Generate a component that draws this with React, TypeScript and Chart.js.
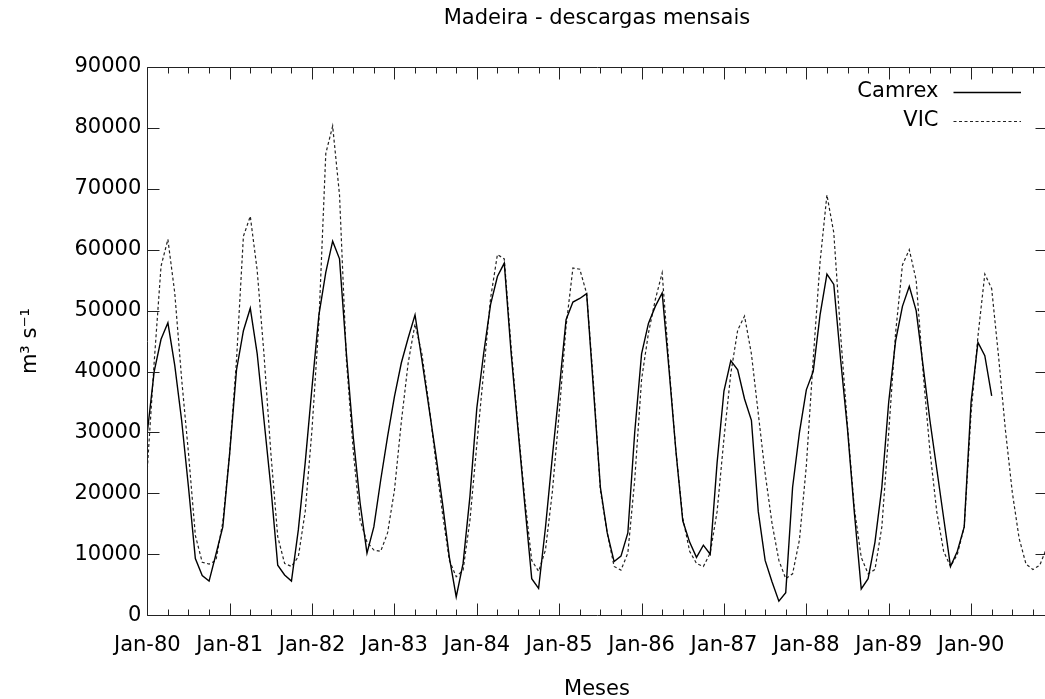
import React, { useEffect, useRef } from 'react';
import { Chart, registerables } from 'chart.js';

Chart.register(...registerables);

// ---- Data (monthly discharges, Jan-80 onward) ----
const chartTitle = 'Madeira - descargas mensais';
const xAxisTitle = 'Meses';
const yAxisTitle = 'm³ s⁻¹';
const seriesNames = ['Camrex', 'VIC'];

const xTickMonths = [0, 12, 24, 36, 48, 60, 72, 84, 96, 108, 120];
const xTickLabels = ['Jan-80', 'Jan-81', 'Jan-82', 'Jan-83', 'Jan-84', 'Jan-85', 'Jan-86', 'Jan-87', 'Jan-88', 'Jan-89', 'Jan-90'];
const yTickValues = [0, 10000, 20000, 30000, 40000, 50000, 60000, 70000, 80000, 90000];

const camrex = [
  30000, 40000, 45300, 48000, 41000, 32000, 21000, 9300, 6500, 5600, 10000, 14500,
  26600, 40300, 46700, 50400, 43000, 32000, 21000, 8200, 6600, 5600, 14000, 25000,
  37500, 49300, 56300, 61400, 58500, 43000, 29300, 18400, 10200, 14500, 22200, 29300,
  35900, 41400, 45500, 49300, 41900, 34300, 26600, 18400, 9500, 3000, 8500, 19500,
  34000, 43000, 51000, 55600, 57800, 43000, 30500, 18000, 6000, 4400, 14400, 26000,
  37000, 48500, 51400, 52000, 52800, 37000, 21000, 13500, 8800, 9700, 13500, 30000,
  42900, 47900, 50700, 52900, 40300, 27000, 15500, 12000, 9500, 11500, 10000, 25000,
  36800, 41800, 40300, 35500, 32000, 17000, 9000, 5500, 2300, 3700, 21000, 30000,
  37000, 40000, 49300, 56000, 54300, 41900, 30500, 16800, 4300, 6000, 12000, 21000,
  35000, 45000, 50700, 54000, 50000, 41000, 32000, 24000, 16000, 8000, 10500, 14500,
  35000, 44800, 42600, 36000,
];

const vic = [
  24000, 41500, 57300, 61700, 52900, 38800, 26600, 13100, 8700, 8400, 9000, 15300,
  26600, 42000, 62200, 65500, 56700, 42800, 26600, 12900, 8500, 8000, 9600, 17000,
  30600, 48200, 75800, 80300, 69000, 42000, 27000, 15600, 12000, 10700, 10500, 13500,
  20500, 31700, 41400, 47800, 42900, 34800, 25500, 16700, 9000, 6300, 7400, 15600,
  28000, 40000, 52000, 59200, 58500, 44000, 31000, 19000, 9000, 7200, 10700, 20200,
  33200, 47400, 57000, 56800, 52800, 38000, 20500, 13500, 8000, 7400, 10200, 22200,
  38700, 46300, 51800, 56200, 41000, 27000, 16000, 10500, 8500, 8000, 10200, 17000,
  29000, 39700, 46800, 49100, 42900, 33100, 23300, 15100, 9000, 6000, 6800, 12400,
  24500, 42000, 58000, 69000, 62800, 46000, 31000, 17500, 9500, 6800, 7500, 14500,
  30000, 46300, 57500, 60000, 55000, 40000, 27000, 17000, 10500, 8000, 10000, 14500,
  33200, 45800, 56000, 53600, 42500, 30400, 20200, 12600, 8400, 7500, 8200, 11000,
];

const xMax = vic.length - 1;

const FONT_FAMILY = '"DejaVu Sans", sans-serif';
const FONT_SIZE = 21;
const INK = '#000';
const FRAME = '#222';

const gnuplotDecor = {
  id: 'gnuplotDecor',
  afterDraw(chart: any) {
    const { ctx, chartArea: a, scales } = chart;
    const xs = scales.x;
    const ys = scales.y;
    const L = Math.round(a.left) + 0.5;
    const R = Math.round(a.right) + 0.5;
    const T = Math.round(a.top) + 0.5;
    const B = Math.round(a.bottom) + 0.5;
    ctx.save();
    ctx.strokeStyle = FRAME;
    ctx.lineWidth = 1;
    ctx.setLineDash([]);
    ctx.beginPath();
    ctx.rect(L, T, R - L, B - T);
    // y ticks (left and mirrored right)
    ys.ticks.forEach((t: any) => {
      const py = Math.round(ys.getPixelForValue(t.value)) + 0.5;
      ctx.moveTo(L, py); ctx.lineTo(L + 12, py);
      ctx.moveTo(R, py); ctx.lineTo(R - 12, py);
    });
    // x major ticks (bottom and mirrored top)
    xs.ticks.forEach((t: any) => {
      const px = Math.round(xs.getPixelForValue(t.value)) + 0.5;
      ctx.moveTo(px, B); ctx.lineTo(px, B - 12);
      ctx.moveTo(px, T); ctx.lineTo(px, T + 12);
    });
    // x minor ticks every quarter
    for (let m = 3; m <= xs.max; m += 3) {
      if (m % 12 === 0) continue;
      const px = Math.round(xs.getPixelForValue(m)) + 0.5;
      ctx.moveTo(px, B); ctx.lineTo(px, B - 6);
      ctx.moveTo(px, T); ctx.lineTo(px, T + 6);
    }
    ctx.stroke();

    // texts
    ctx.fillStyle = INK;
    ctx.font = `${FONT_SIZE}px ${FONT_FAMILY}`;
    ctx.textAlign = 'center';
    ctx.textBaseline = 'middle';
    const cx = (a.left + a.right) / 2;
    ctx.fillText(chartTitle, cx, 11);
    ctx.fillText(xAxisTitle, cx, 681.5);
    ctx.save();
    ctx.translate(23, (a.top + a.bottom) / 2);
    ctx.rotate(-Math.PI / 2);
    ctx.fillText(yAxisTitle, 0, 0);
    ctx.restore();

    // legend (gnuplot style: label then sample line)
    const sampleEnd = a.right - 25.6;
    const sampleStart = sampleEnd - 67.5;
    chart.data.datasets.forEach((ds: any, i: number) => {
      const ry = a.top + 25 + i * 29;
      ctx.textAlign = 'right';
      ctx.fillText(ds.label, sampleStart - 15, ry);
      ctx.beginPath();
      ctx.strokeStyle = ds.borderColor;
      ctx.lineWidth = ds.borderWidth;
      ctx.setLineDash(ds.borderDash || []);
      ctx.moveTo(sampleStart, Math.round(ry) + 0.5);
      ctx.lineTo(sampleEnd, Math.round(ry) + 0.5);
      ctx.stroke();
    });
    ctx.restore();
  },
};

export default function App() {
  const canvasRef = useRef<HTMLCanvasElement | null>(null);

  useEffect(() => {
    if (!canvasRef.current) return;
    const chart = new Chart(canvasRef.current, {
      type: 'line',
      data: {
        datasets: [
          {
            label: seriesNames[0],
            data: camrex.map((v, i) => ({ x: i, y: v })),
            borderColor: '#000',
            borderWidth: 1.4,
            pointRadius: 0,
            tension: 0,
            fill: false,
          },
          {
            label: seriesNames[1],
            data: vic.map((v, i) => ({ x: i, y: v })),
            borderColor: '#222',
            borderWidth: 1.2,
            borderDash: [3, 2.5],
            pointRadius: 0,
            tension: 0,
            fill: false,
          },
        ],
      },
      options: {
        animation: false,
        responsive: false,
        devicePixelRatio: 1,
        maintainAspectRatio: false,
        events: [],
        layout: { padding: { top: 59, right: 21.4, bottom: 0, left: 0 } },
        plugins: {
          legend: { display: false },
          title: { display: false },
          tooltip: { enabled: false },
        },
        scales: {
          x: {
            type: 'linear',
            min: 0,
            max: xMax,
            afterBuildTicks: (s: any) => {
              s.ticks = xTickMonths.map((v) => ({ value: v }));
            },
            afterFit: (s: any) => {
              s.height = 83.8;
            },
            grid: { display: false, drawTicks: false },
            border: { display: false },
            ticks: {
              autoSkip: false,
              maxRotation: 0,
              padding: 18,
              color: INK,
              font: { family: FONT_FAMILY, size: FONT_SIZE },
              callback: (v: any) => xTickLabels[xTickMonths.indexOf(Number(v))] ?? '',
            },
          },
          y: {
            type: 'linear',
            min: 0,
            max: 90000,
            afterBuildTicks: (s: any) => {
              s.ticks = yTickValues.map((v) => ({ value: v }));
            },
            afterFit: (s: any) => {
              s.width = 139.3;
            },
            grid: { display: false, drawTicks: false },
            border: { display: false },
            ticks: {
              padding: 6,
              color: INK,
              font: { family: FONT_FAMILY, size: FONT_SIZE },
              callback: (v: any) => String(v),
            },
          },
        },
      },
      plugins: [gnuplotDecor],
    });
    return () => chart.destroy();
  }, []);

  return (
    <div style={{ position: 'fixed', left: 8, top: 8, width: 1037, height: 691, overflow: 'hidden', background: '#fff' }}>
      <canvas ref={canvasRef} width={1060} height={691} style={{ display: 'block', width: 1060, height: 691 }} />
    </div>
  );
}
